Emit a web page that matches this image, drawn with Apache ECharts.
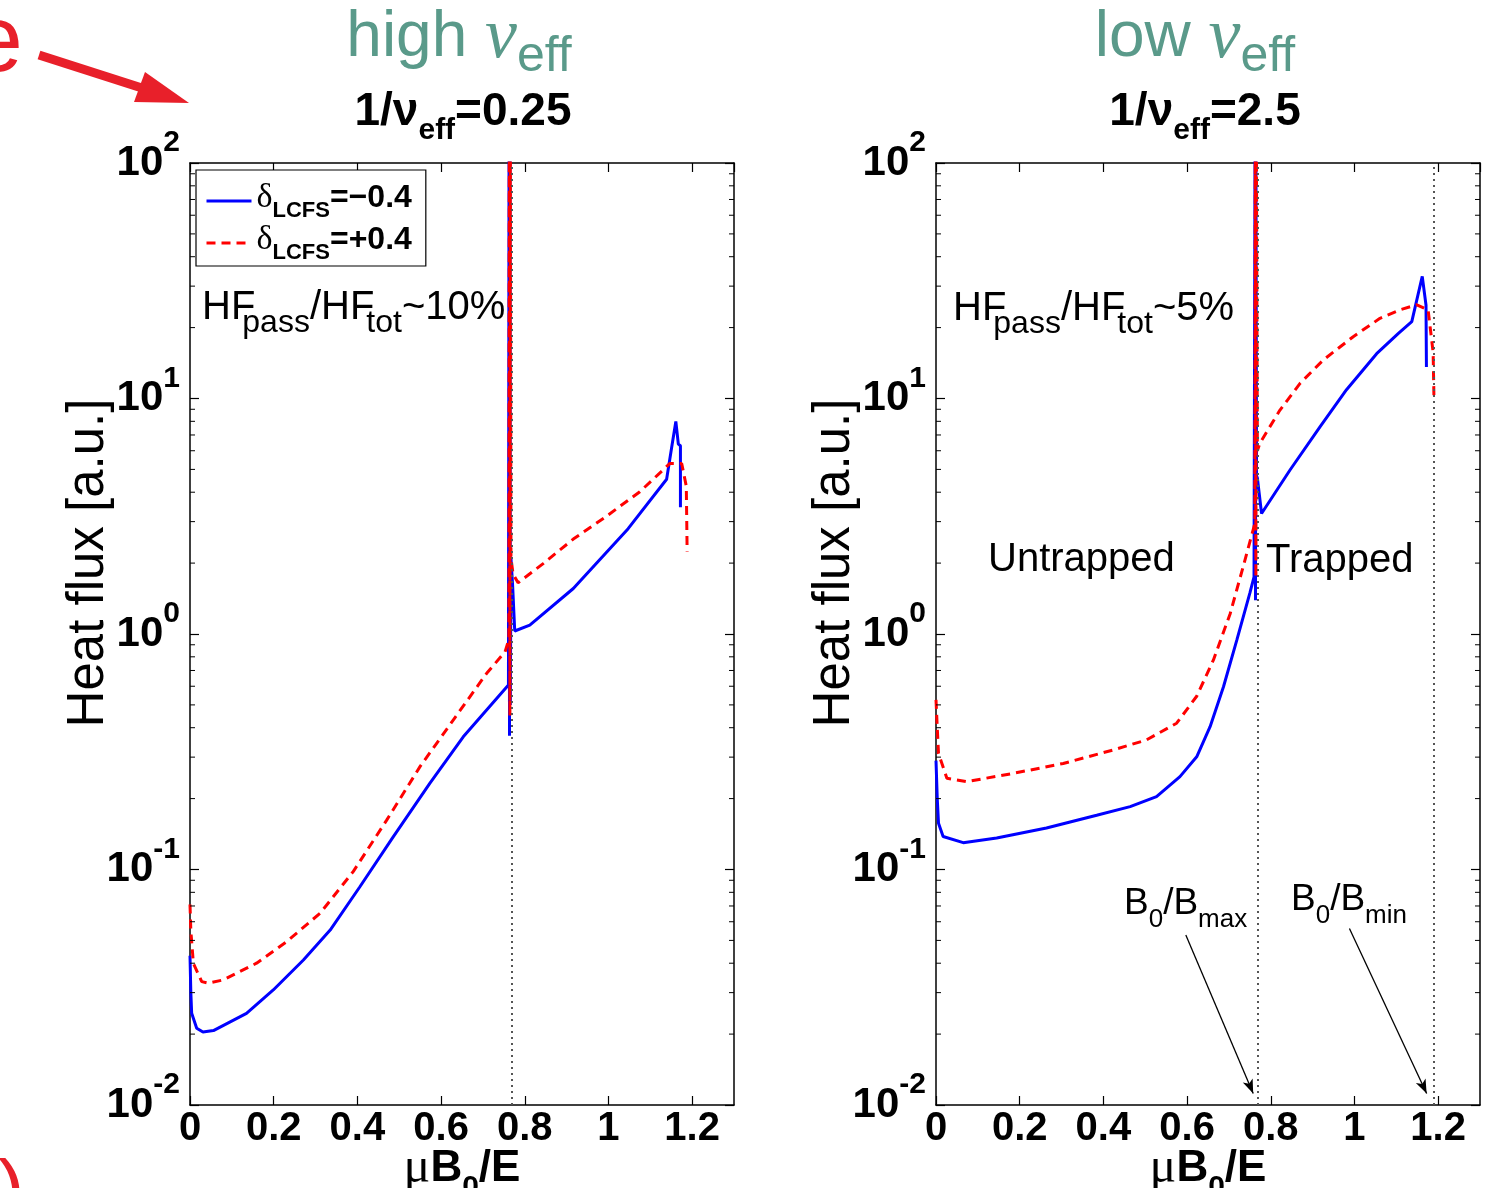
<!DOCTYPE html>
<html>
<head>
<meta charset="utf-8">
<script src="https://cdn.jsdelivr.net/npm/echarts@6/dist/echarts.min.js"></script>
<style>html,body{margin:0;padding:0;background:#fff;overflow:hidden}#c{width:1508px;height:1188px}</style>
</head>
<body>
<div id="c"></div>
<script>
// ---------------- data ----------------
const X_MIN = 0, X_MAX = 1.3, X_INTERVAL = 0.2;
const Y_MIN = 0.01, Y_MAX = 100;
const minorMultipliers = [2, 3, 4, 5, 6, 7, 8, 9];
const minorDecades = [0.01, 0.1, 1, 10];
const legendValues = ['=\u22120.4', '=+0.4'];
const NAME_NEG = 'delta_LCFS=-0.4';
const NAME_POS = 'delta_LCFS=+0.4';

// high nu_eff (1/nu_eff = 0.25), delta = -0.4 (blue solid)
const highNeg = [
  [0.000, 0.043], [0.002, 0.030], [0.004, 0.0245], [0.016, 0.0212], [0.031, 0.0204],
  [0.056, 0.0207], [0.135, 0.0245], [0.199, 0.0308], [0.271, 0.0413], [0.335, 0.0553],
  [0.406, 0.0845], [0.486, 0.138], [0.573, 0.232], [0.653, 0.366], [0.761, 0.607],
  [0.7625, 150], [0.7635, 0.37], [0.7645, 150], [0.7655, 0.5], [0.767, 2.1],
  [0.771, 1.6], [0.776, 1.03], [0.812, 1.09], [0.916, 1.56], [1.047, 2.80],
  [1.139, 4.54], [1.151, 6.19], [1.161, 7.99], [1.167, 6.4], [1.172, 6.3], [1.172, 3.45]
];
// high nu_eff, delta = +0.4 (red dashed)
const highPos = [
  [0.000, 0.071], [0.002, 0.055], [0.008, 0.040], [0.028, 0.0334], [0.044, 0.0329],
  [0.080, 0.034], [0.159, 0.040], [0.231, 0.0494], [0.311, 0.0652], [0.390, 0.098],
  [0.470, 0.162], [0.550, 0.274], [0.629, 0.431], [0.709, 0.681], [0.753, 0.841],
  [0.762, 0.95], [0.763, 150], [0.7645, 0.45], [0.7655, 150], [0.767, 2.1],
  [0.772, 1.8], [0.784, 1.65], [0.844, 1.99], [0.916, 2.53], [0.995, 3.16],
  [1.075, 4.02], [1.147, 5.3], [1.175, 5.3], [1.186, 4.24], [1.188, 2.24]
];
// low nu_eff (1/nu_eff = 2.5), delta = -0.4 (blue solid)
const lowNeg = [
  [0.000, 0.29], [0.003, 0.20], [0.006, 0.157], [0.017, 0.138], [0.065, 0.130],
  [0.145, 0.136], [0.264, 0.150], [0.384, 0.170], [0.464, 0.185], [0.527, 0.204],
  [0.583, 0.248], [0.623, 0.301], [0.655, 0.404], [0.687, 0.597], [0.719, 0.944],
  [0.750, 1.49], [0.760, 1.75], [0.7625, 150], [0.7635, 1.39], [0.7645, 150],
  [0.766, 4.7], [0.768, 4.6], [0.778, 3.25], [0.846, 4.97], [0.918, 7.59],
  [0.981, 10.9], [1.053, 15.5], [1.105, 18.9], [1.137, 21.2], [1.162, 33.0],
  [1.171, 24.9], [1.172, 13.6]
];
// low nu_eff, delta = +0.4 (red dashed)
const lowPos = [
  [0.000, 0.525], [0.003, 0.40], [0.006, 0.311], [0.026, 0.244], [0.073, 0.236],
  [0.185, 0.256], [0.304, 0.282], [0.424, 0.322], [0.503, 0.355], [0.575, 0.418],
  [0.623, 0.544], [0.663, 0.776], [0.703, 1.22], [0.734, 1.93], [0.762, 2.95],
  [0.763, 150], [0.7645, 1.74], [0.7655, 150], [0.768, 6.0], [0.774, 6.46],
  [0.822, 8.93], [0.870, 11.6], [0.926, 14.6], [0.997, 18.3], [1.061, 21.9],
  [1.109, 23.8], [1.149, 25.0], [1.176, 23.8], [1.188, 15.7], [1.190, 10.0]
];
// dotted reference lines (B0/Bmax, B0/Bmin)
const verticalMarksHigh = [0.765];
const verticalMarksLow = [0.765, 1.185];
// annotation arrows in the low-nu panel (data coordinates)
const arrowsLow = [
  { from: [0.597, 0.0527], to: [0.758, 0.0112] },
  { from: [0.988, 0.0562], to: [1.1725, 0.0112] }
];

// ---------------- styles ----------------
const SANS = '"Liberation Sans", Arial, Helvetica, sans-serif';
const SERIF = '"Liberation Serif", "Times New Roman", serif';
const TEAL = '#5a9a8a';
const BLUE = '#0000ff';
const RED = '#ff0000';
const ARROW_RED = '#e8202a';

const minorTickValues = [];
minorDecades.forEach(d => minorMultipliers.forEach(m => minorTickValues.push(+(d * m).toPrecision(3))));

const GRIDS = [
  { left: 190, top: 163, width: 544, height: 942, containLabel: false, outerBoundsMode: 'none' },
  { left: 936, top: 163, width: 544, height: 942, containLabel: false, outerBoundsMode: 'none' }
];

const axisLineStyle = { color: '#000', width: 1.5 };
const tickStyle = { color: '#000', width: 1.2 };

function xAxes(gi) {
  const common = {
    gridIndex: gi, type: 'value', min: X_MIN, max: X_MAX, interval: X_INTERVAL,
    splitLine: { show: false },
    axisLine: { show: true, onZero: false, lineStyle: axisLineStyle },
    axisTick: { show: true, inside: true, length: 9, lineStyle: tickStyle }
  };
  return [
    Object.assign({}, common, {
      position: 'bottom',
      axisLabel: { show: true, showMaxLabel: false, margin: 4, color: '#000', fontSize: 40,
        fontWeight: 'bold', fontFamily: SANS },
      name: '{m|\u03bc}{b|B}{s|0}{b|/E}',
      nameLocation: 'middle', nameGap: 42, nameMoveOverlap: false,
      nameTextStyle: {
        color: '#000',
        rich: {
          m: { fontSize: 50, fontFamily: SERIF, color: '#000', lineHeight: 44 },
          b: { fontSize: 44, fontWeight: 'bold', fontFamily: SANS, color: '#000', lineHeight: 44 },
          s: { fontSize: 30, fontWeight: 'bold', fontFamily: SANS, color: '#000', lineHeight: 44, padding: [38, 0, 0, 0] }
        }
      }
    }),
    Object.assign({}, common, { position: 'top', axisLabel: { show: false } })
  ];
}

function yLabel(v) {
  const e = Math.round(Math.log10(v));
  return '{b|10}{s|' + (e < 0 ? '-' + (-e) : String(e)) + '}';
}

function yAxes(gi) {
  const common = {
    gridIndex: gi, type: 'log', logBase: 10, min: Y_MIN, max: Y_MAX,
    splitLine: { show: false },
    axisLine: { show: true, onZero: false, lineStyle: axisLineStyle },
    axisTick: { show: true, inside: true, length: 9, lineStyle: tickStyle },
    minorTick: { show: false }
  };
  return [
    Object.assign({}, common, {
      position: 'left',
      axisLabel: {
        show: true, margin: 10, formatter: yLabel,
        rich: {
          b: { fontSize: 42, fontWeight: 'bold', fontFamily: SANS, color: '#000', lineHeight: 42 },
          s: { fontSize: 30, fontWeight: 'bold', fontFamily: SANS, color: '#000', lineHeight: 42, padding: [0, 0, 40, 0] }
        }
      },
      name: 'Heat flux [a.u.]', nameLocation: 'middle', nameRotate: 90, nameGap: 76, nameMoveOverlap: false,
      nameTextStyle: { fontSize: 51, fontFamily: SANS, color: '#000', padding: [0, 0, 0, 142] }
    }),
    Object.assign({}, common, { position: 'right', axisLabel: { show: false } })
  ];
}

function lineSeries(name, data, xi, yi, color, dashed, markLine) {
  const s = {
    type: 'line', name: name, data: data, xAxisIndex: xi, yAxisIndex: yi,
    showSymbol: false, symbol: 'none', smooth: false, clip: true, animation: false,
    lineStyle: { color: color, width: 3, type: dashed ? [9, 6] : 'solid' },
    itemStyle: { color: color },
    z: dashed ? 4 : 3
  };
  if (markLine) s.markLine = markLine;
  return s;
}

function minorTickSeries(xi, yi) {
  return {
    type: 'custom', xAxisIndex: xi, yAxisIndex: yi, silent: true, clip: false, z: 5,
    data: minorTickValues.map(v => [X_MIN, v]),
    renderItem: function (params, api) {
      const v = api.value(1);
      const l = api.coord([X_MIN, v]);
      const r = api.coord([X_MAX, v]);
      return {
        type: 'group',
        children: [
          { type: 'line', shape: { x1: l[0], y1: l[1], x2: l[0] + 5, y2: l[1] }, style: { stroke: '#000', lineWidth: 1 } },
          { type: 'line', shape: { x1: r[0], y1: r[1], x2: r[0] - 5, y2: r[1] }, style: { stroke: '#000', lineWidth: 1 } }
        ]
      };
    }
  };
}

function dottedMarks(values, arrows) {
  const data = values.map(v => ({ xAxis: v }));
  (arrows || []).forEach(a => {
    data.push([
      { coord: a.from, symbol: 'none', lineStyle: { type: 'solid', color: '#000', width: 1.3 } },
      { coord: a.to, symbol: 'arrow', symbolSize: [8, 14] }
    ]);
  });
  return {
    silent: true, animation: false, symbol: ['none', 'none'],
    label: { show: false },
    lineStyle: { type: [2, 4], color: '#555', width: 2 },
    data: data
  };
}

// rich text helper for graphic texts
function gText(x, y, text, rich, align) {
  return {
    type: 'text', x: x, y: y, silent: true,
    style: { text: text, rich: rich, align: align || 'left', verticalAlign: 'middle', fill: '#000' }
  };
}

const tealRich = {
  t: { fontSize: 64, fontFamily: SANS, fill: TEAL, lineHeight: 64 },
  n: { fontSize: 72, fontFamily: SERIF, fontStyle: 'italic', fill: TEAL, lineHeight: 64 },
  e: { fontSize: 50, fontFamily: SANS, fill: TEAL, lineHeight: 64, padding: [38, 0, 0, 0] }
};
const boldTitleRich = {
  a: { fontSize: 46, fontWeight: 'bold', fontFamily: SANS, fill: '#000', lineHeight: 46 },
  s: { fontSize: 30, fontWeight: 'bold', fontFamily: SANS, fill: '#000', lineHeight: 46, padding: [38, 0, 0, 0] }
};
const hfRich = {
  a: { fontSize: 40, fontFamily: SANS, fill: '#000', lineHeight: 40 },
  s: { fontSize: 32, fontFamily: SANS, fill: '#000', lineHeight: 40, padding: [31, 0, 0, -13] },
  u: { fontSize: 32, fontFamily: SANS, fill: '#000', lineHeight: 40, padding: [31, 0, 0, -8] }
};
const bRich = {
  a: { fontSize: 37, fontFamily: SANS, fill: '#000', lineHeight: 38 },
  s: { fontSize: 26, fontFamily: SANS, fill: '#000', lineHeight: 38, padding: [32, 0, 0, 0] }
};
const plainRich = {
  a: { fontSize: 40, fontFamily: SANS, fill: '#000' }
};

const graphics = [
  gText(459, 38, '{t|high }{n|\u03bd}{e|eff}', tealRich, 'center'),
  gText(1195, 38, '{t|low }{n|\u03bd}{e|eff}', tealRich, 'center'),
  gText(463, 112, '{a|1/\u03bd}{s|eff}{a|=0.25}', boldTitleRich, 'center'),
  gText(1205, 112, '{a|1/\u03bd}{s|eff}{a|=2.5}', boldTitleRich, 'center'),
  gText(202, 308, '{a|HF}{s|pass}{a|/HF}{u|tot}{a|~10%}', hfRich),
  gText(953, 309, '{a|HF}{s|pass}{a|/HF}{u|tot}{a|~5%}', hfRich),
  gText(988, 560, '{a|Untrapped}', plainRich),
  gText(1266, 561, '{a|Trapped}', plainRich),
  gText(1124, 904, '{a|B}{s|0}{a|/B}{s|max}', bRich),
  gText(1291, 900, '{a|B}{s|0}{a|/B}{s|min}', bRich),
  // red overlay annotations cut at the picture edge
  { type: 'text', x: -30, y: 45, silent: true,
    style: { text: 'e', fontSize: 95, fontFamily: SANS, fill: ARROW_RED, align: 'left', verticalAlign: 'middle' } },
  { type: 'text', x: -2, y: 1154, silent: true,
    style: { text: ')', fontSize: 80, fontFamily: SANS, fill: ARROW_RED, align: 'left', verticalAlign: 'top' } },
  { type: 'line', silent: true, shape: { x1: 39, y1: 55, x2: 145, y2: 89 },
    style: { stroke: ARROW_RED, lineWidth: 9 } },
  { type: 'polygon', silent: true, shape: { points: [[189, 103], [145, 72], [134, 102]] },
    style: { fill: ARROW_RED } }
];

const option = {
  animation: false,
  backgroundColor: '#fff',
  grid: GRIDS,
  xAxis: xAxes(0).concat(xAxes(1)),
  yAxis: yAxes(0).concat(yAxes(1)),
  legend: {
    data: [NAME_NEG, NAME_POS],
    left: 196, top: 170, orient: 'vertical',
    itemWidth: 45, itemHeight: 14, itemGap: 1,
    padding: [11, 14, 2, 9],
    backgroundColor: '#fff', borderColor: '#000', borderWidth: 1.2,
    selectedMode: false,
    itemStyle: { opacity: 0 },
    lineStyle: { width: 3 },
    formatter: function (name) {
      const v = name === NAME_NEG ? legendValues[0] : legendValues[1];
      return '{d|\u03b4}{s|LCFS}{v|' + v + '}';
    },
    textStyle: {
      rich: {
        d: { fontSize: 34, fontFamily: SERIF, color: '#000', padding: [0, 0, 6, 0] },
        s: { fontSize: 22, fontWeight: 'bold', fontFamily: SANS, color: '#000', padding: [20, 0, 0, 0] },
        v: { fontSize: 32, fontWeight: 'bold', fontFamily: SANS, color: '#000', padding: [0, 0, 6, 0] }
      }
    }
  },
  graphic: graphics,
  series: [
    lineSeries(NAME_NEG, highNeg, 0, 0, BLUE, false, dottedMarks(verticalMarksHigh)),
    lineSeries(NAME_POS, highPos, 0, 0, RED, true),
    minorTickSeries(0, 0),
    lineSeries(NAME_NEG, lowNeg, 2, 2, BLUE, false, dottedMarks(verticalMarksLow, arrowsLow)),
    lineSeries(NAME_POS, lowPos, 2, 2, RED, true),
    minorTickSeries(2, 2)
  ]
};

const chart = echarts.init(document.getElementById('c'), null, { renderer: 'canvas', width: 1508, height: 1188 });
chart.setOption(option);
</script>
</body>
</html>
